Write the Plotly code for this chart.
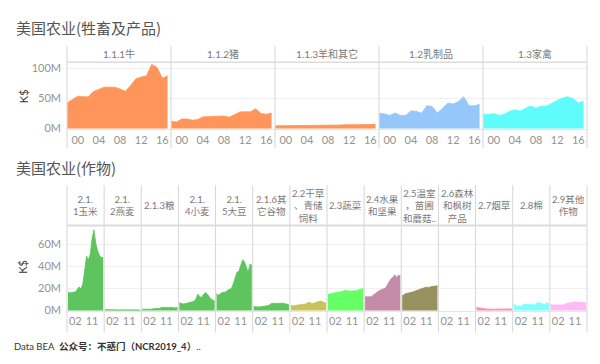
import plotly.graph_objects as go

W, H = 600, 364

years = list(range(1998, 2018))

# ---- Livestock (M K$) ----
top_labels = ["1.1.1牛", "1.1.2猪", "1.1.3羊和其它", "1.2乳制品", "1.3家禽"]
cattle = [43, 48, 54, 53, 53, 62, 65, 69, 69, 69, 66, 62, 72, 83, 86, 88, 107, 102, 84, 88]
pork = [12, 11, 16, 16, 14, 15, 19.5, 20, 20, 20, 21, 19, 23, 27.7, 28, 28, 33, 25, 24, 26]
sheep = [4.6, 4.6, 4.8, 4.9, 4.8, 5.0, 5.2, 5.3, 5.3, 5.5, 5.6, 5.4, 5.8, 6.2, 6.4, 6.6, 6.9, 6.8, 6.7, 6.9]
dairy = [25.5, 24.5, 22, 26, 22, 22, 29.5, 29, 25.5, 38, 37, 26, 34, 42.5, 41, 45, 53, 38, 38, 40.5]
poultry = [24, 23.5, 25, 22, 24, 29, 31.5, 29, 34, 37.5, 34, 37.5, 37.5, 42.5, 47, 51, 53, 50, 42.5, 46]
top_series = [cattle, pork, sheep, dairy, poultry]
top_colors = ["#FF955A", "#FF955A", "#FF955A", "#96C7FA", "#5FFCFC"]
top_tickvals = [2000, 2004, 2008, 2012, 2016]
top_ticktext = ["00", "04", "08", "12", "16"]
top_yvals = [0, 50, 100]
top_ytext = ["0M", "50M", "100M"]

# ---- Crops (M K$) ----
bot_labels = ["2.1.<br>1玉米", "2.1.<br>2燕麦", "2.1.3粮", "2.1.<br>4小麦", "2.1.<br>5大豆",
              "2.1.6其<br>它谷物", "2.2干草<br>、青储<br>饲料", "2.3蔬菜", "2.4水果<br>和坚果",
              "2.5温室<br>，苗圃<br>和蘑菇..", "2.6森林<br>和枫树<br>产品", "2.7烟草", "2.8棉",
              "2.9其他<br>作物"]
corn = [16.5, 16, 16.3, 16.5, 17, 19, 21.5, 19.5, 24, 36, 49.6, 45.8, 51, 65, 73.3, 61, 54, 50, 48, 48]
oats = [0.9, 0.8, 0.7, 0.7, 0.6, 0.7, 0.6, 0.5, 0.5, 0.6, 0.8, 0.6, 0.5, 0.6, 0.7, 0.7, 0.6, 0.5, 0.4, 0.5]
rice = [1.3, 1.2, 1.0, 0.9, 1.0, 1.2, 1.7, 1.6, 1.6, 1.9, 2.5, 3.0, 2.8, 2.6, 2.8, 2.9, 3.0, 2.4, 2.6, 2.7]
wheat = [7.2, 6.5, 6, 6.2, 6.7, 7.5, 7.4, 8, 8.5, 11, 15, 12.5, 12, 14.5, 16.4, 15, 13, 10.5, 9.6, 8.7]
soy = [15.6, 14, 15, 16.4, 16.5, 17, 18.5, 19.4, 20, 24, 30, 34.8, 35.4, 40, 45.8, 44.5, 40, 34.8, 42, 41.3]
other_grain = [3.6, 3.3, 3.2, 3.3, 3.5, 3.8, 4.2, 4.3, 4.6, 5.8, 6.7, 6.4, 6.5, 6.8, 6.9, 6.7, 6.7, 6.2, 5.6, 5.2]
hay = [4.6, 4.4, 4.5, 4.8, 5.0, 5.2, 5.4, 5.6, 6.0, 7.0, 7.6, 6.6, 6.2, 7.2, 7.6, 8.2, 8.7, 8.0, 7.0, 6.7]
veg = [14.7, 15, 15.5, 15.8, 16, 16.5, 17, 17.3, 17.5, 18.5, 18, 17.6, 17.6, 17.8, 17.6, 18, 18.5, 19, 19.5, 20]
fruit = [12.5, 12.3, 12.5, 12.5, 13.5, 14.5, 16, 17.5, 18.5, 19, 19.8, 20.5, 23, 26, 28.9, 30, 32.4, 30, 32, 31.8]
greenhouse = [13.4, 14.5, 15.6, 15.8, 16, 16.4, 17, 17.8, 18.3, 19, 19.3, 19.8, 20.5, 21.3, 20.8, 21.5, 21.8, 22, 22.2, 22.5]
forest = []
tobacco = [2.8, 2.4, 2.0, 1.8, 1.5, 1.5, 1.4, 1.2, 1.1, 1.2, 1.3, 1.4, 1.3, 1.3, 1.4, 1.5, 1.6, 1.5, 1.4, 1.6]
cotton = [5.8, 4.5, 3.8, 4.5, 3.6, 5.2, 5.6, 5.8, 5.7, 5.8, 5.6, 4.8, 6.5, 7.6, 6.8, 6.7, 5.8, 5.2, 7.6, 6.0]
other_crop = [5.2, 5.0, 5.0, 4.9, 5.0, 5.0, 4.9, 5.2, 6.2, 6.7, 7.0, 7.3, 7.6, 7.7, 7.7, 7.6, 7.6, 7.5, 7.3, 7.1]
bot_series = [corn, oats, rice, wheat, soy, other_grain, hay, veg, fruit, greenhouse, forest,
              tobacco, cotton, other_crop]
g = "#5EC45E"
bot_colors = [g, g, g, g, g, g, "#C8C35A", "#66FF66", "#C48CA8", "#96915F", "#888888",
              "#FF8CA5", "#80FFFF", "#FFB9F5"]
bot_tickvals = [2002, 2011]
bot_ticktext = ["02", "11"]
bot_yvals = [0, 20, 40, 60]
bot_ytext = ["0M", "20M", "40M", "60M"]


def px(x):
    return x / W


def py(y):
    return 1 - y / H


FONT = "Lato, 'Noto Sans CJK SC', sans-serif"
TICKC = "#939393"
SEP = "#d6d6d6"

fig = go.Figure()
layout = dict(width=W, height=H, margin=dict(l=0, r=0, t=0, b=0), autosize=False,
              paper_bgcolor="white", plot_bgcolor="rgba(0,0,0,0)", showlegend=False,
              font=dict(family=FONT))
shapes, annos = [], []

# ---- top block ----
L, R = 67, 587
t_top, t_bot = 62.5, 131
nT = len(top_series)
wT = (R - L) / nT
for i, (vals, col, lab) in enumerate(zip(top_series, top_colors, top_labels)):
    k = i + 1
    xa = "xaxis" if k == 1 else f"xaxis{k}"
    layout[xa] = dict(domain=[px(L + wT * i), px(L + wT * (i + 1))], anchor="y",
                      range=[1997.95, 2017.65], tickvals=top_tickvals, ticktext=top_ticktext,
                      showgrid=False, zeroline=False, showline=True, linecolor="#e6e6e6",
                      ticks="", tickfont=dict(size=11, color=TICKC), ticklabelstandoff=0)
    fig.add_trace(go.Scatter(x=years, y=vals, mode="lines", fill="tozeroy",
                             line=dict(color=col, width=0.8), fillcolor=col,
                             xaxis="x" if k == 1 else f"x{k}", yaxis="y", hoverinfo="skip"))
    annos.append(dict(x=px(L + wT * (i + 0.5)), y=py(54), xref="paper", yref="paper",
                      text=lab, showarrow=False, font=dict(size=10, color="#7a7a7a"),
                      xanchor="center", yanchor="middle"))
layout["yaxis"] = dict(domain=[py(t_bot), py(t_top)], anchor="x", range=[-1.5, 110.5],
                       tickvals=top_yvals, ticktext=top_ytext, showgrid=True,
                       gridcolor="#f0f0f0", zeroline=False, ticks="",
                       tickfont=dict(size=11, color=TICKC), ticklabelstandoff=5)
for i in range(nT + 1):
    shapes.append(dict(type="line", xref="paper", yref="paper", x0=px(L + wT * i),
                       x1=px(L + wT * i), y0=py(46), y1=py(150),
                       line=dict(color=SEP, width=1)))
shapes.append(dict(type="line", xref="paper", yref="paper", x0=px(L), x1=px(R),
                   y0=py(t_top), y1=py(t_top), line=dict(color="#dcdcdc", width=1.5)))

# ---- bottom block ----
b_top, b_bot = 229, 316
nB = len(bot_series)
wB = (R - L) / nB
for i, (vals, col, lab) in enumerate(zip(bot_series, bot_colors, bot_labels)):
    k = nT + 1 + i
    layout[f"xaxis{k}"] = dict(domain=[px(L + wB * i), px(L + wB * (i + 1))], anchor="y2",
                               range=[1997.5, 2017.5], tickvals=bot_tickvals,
                               ticktext=bot_ticktext, showgrid=False, zeroline=False,
                               showline=True, linecolor="#e6e6e6", ticks="",
                               tickfont=dict(size=11, color=TICKC), ticklabelstandoff=0)
    yv = vals if vals else [None] * len(years)
    fig.add_trace(go.Scatter(x=years, y=yv, mode="lines", fill="tozeroy",
                             line=dict(color=col, width=0.8), fillcolor=col,
                             xaxis=f"x{k}", yaxis="y2", hoverinfo="skip"))
    annos.append(dict(x=px(L + wB * (i + 0.5)), y=py(209), xref="paper", yref="paper",
                      text=lab, showarrow=False, font=dict(size=9.5, color="#7a7a7a"),
                      xanchor="center", yanchor="middle"))
layout["yaxis2"] = dict(domain=[py(b_bot), py(b_top)], anchor=f"x{nT + 1}", range=[-0.3, 77],
                        tickvals=bot_yvals, ticktext=bot_ytext, showgrid=True,
                        gridcolor="#f0f0f0", zeroline=False, ticks="",
                        tickfont=dict(size=11, color=TICKC), ticklabelstandoff=5)
for i in range(nB + 1):
    shapes.append(dict(type="line", xref="paper", yref="paper", x0=px(L + wB * i),
                       x1=px(L + wB * i), y0=py(188), y1=py(338),
                       line=dict(color=SEP, width=1)))
shapes.append(dict(type="line", xref="paper", yref="paper", x0=px(L), x1=px(R),
                   y0=py(b_top), y1=py(b_top), line=dict(color="#dcdcdc", width=2)))

# ---- titles / labels ----
annos += [
    dict(x=px(14), y=py(27), xref="paper", yref="paper", text="美国农业(牲畜及产品)",
         showarrow=False, xanchor="left", yanchor="middle",
         font=dict(size=15, color="#555555", family="'Noto Sans CJK SC', sans-serif")),
    dict(x=px(14), y=py(170), xref="paper", yref="paper", text="美国农业(作物)",
         showarrow=False, xanchor="left", yanchor="middle",
         font=dict(size=15, color="#555555", family="'Noto Sans CJK SC', sans-serif")),
    dict(x=px(23), y=py(97), xref="paper", yref="paper", text="K$", textangle=-90,
         showarrow=False, xanchor="center", yanchor="middle",
         font=dict(size=11, color="#333333")),
    dict(x=px(23), y=py(271), xref="paper", yref="paper", text="K$", textangle=-90,
         showarrow=False, xanchor="center", yanchor="middle",
         font=dict(size=11, color="#333333")),
    dict(x=px(12), y=py(352), xref="paper", yref="paper",
         text="Data BEA  <b>公众号：不惑门（NCR2019_4）</b>..", showarrow=False,
         xanchor="left", yanchor="middle", font=dict(size=9.5, color="#333333")),
]
layout["shapes"] = shapes
layout["annotations"] = annos
fig.update_layout(**layout)
fig.write_html("out.html", config={"displayModeBar": False},
               post_script="document.body.style.margin='0';")
